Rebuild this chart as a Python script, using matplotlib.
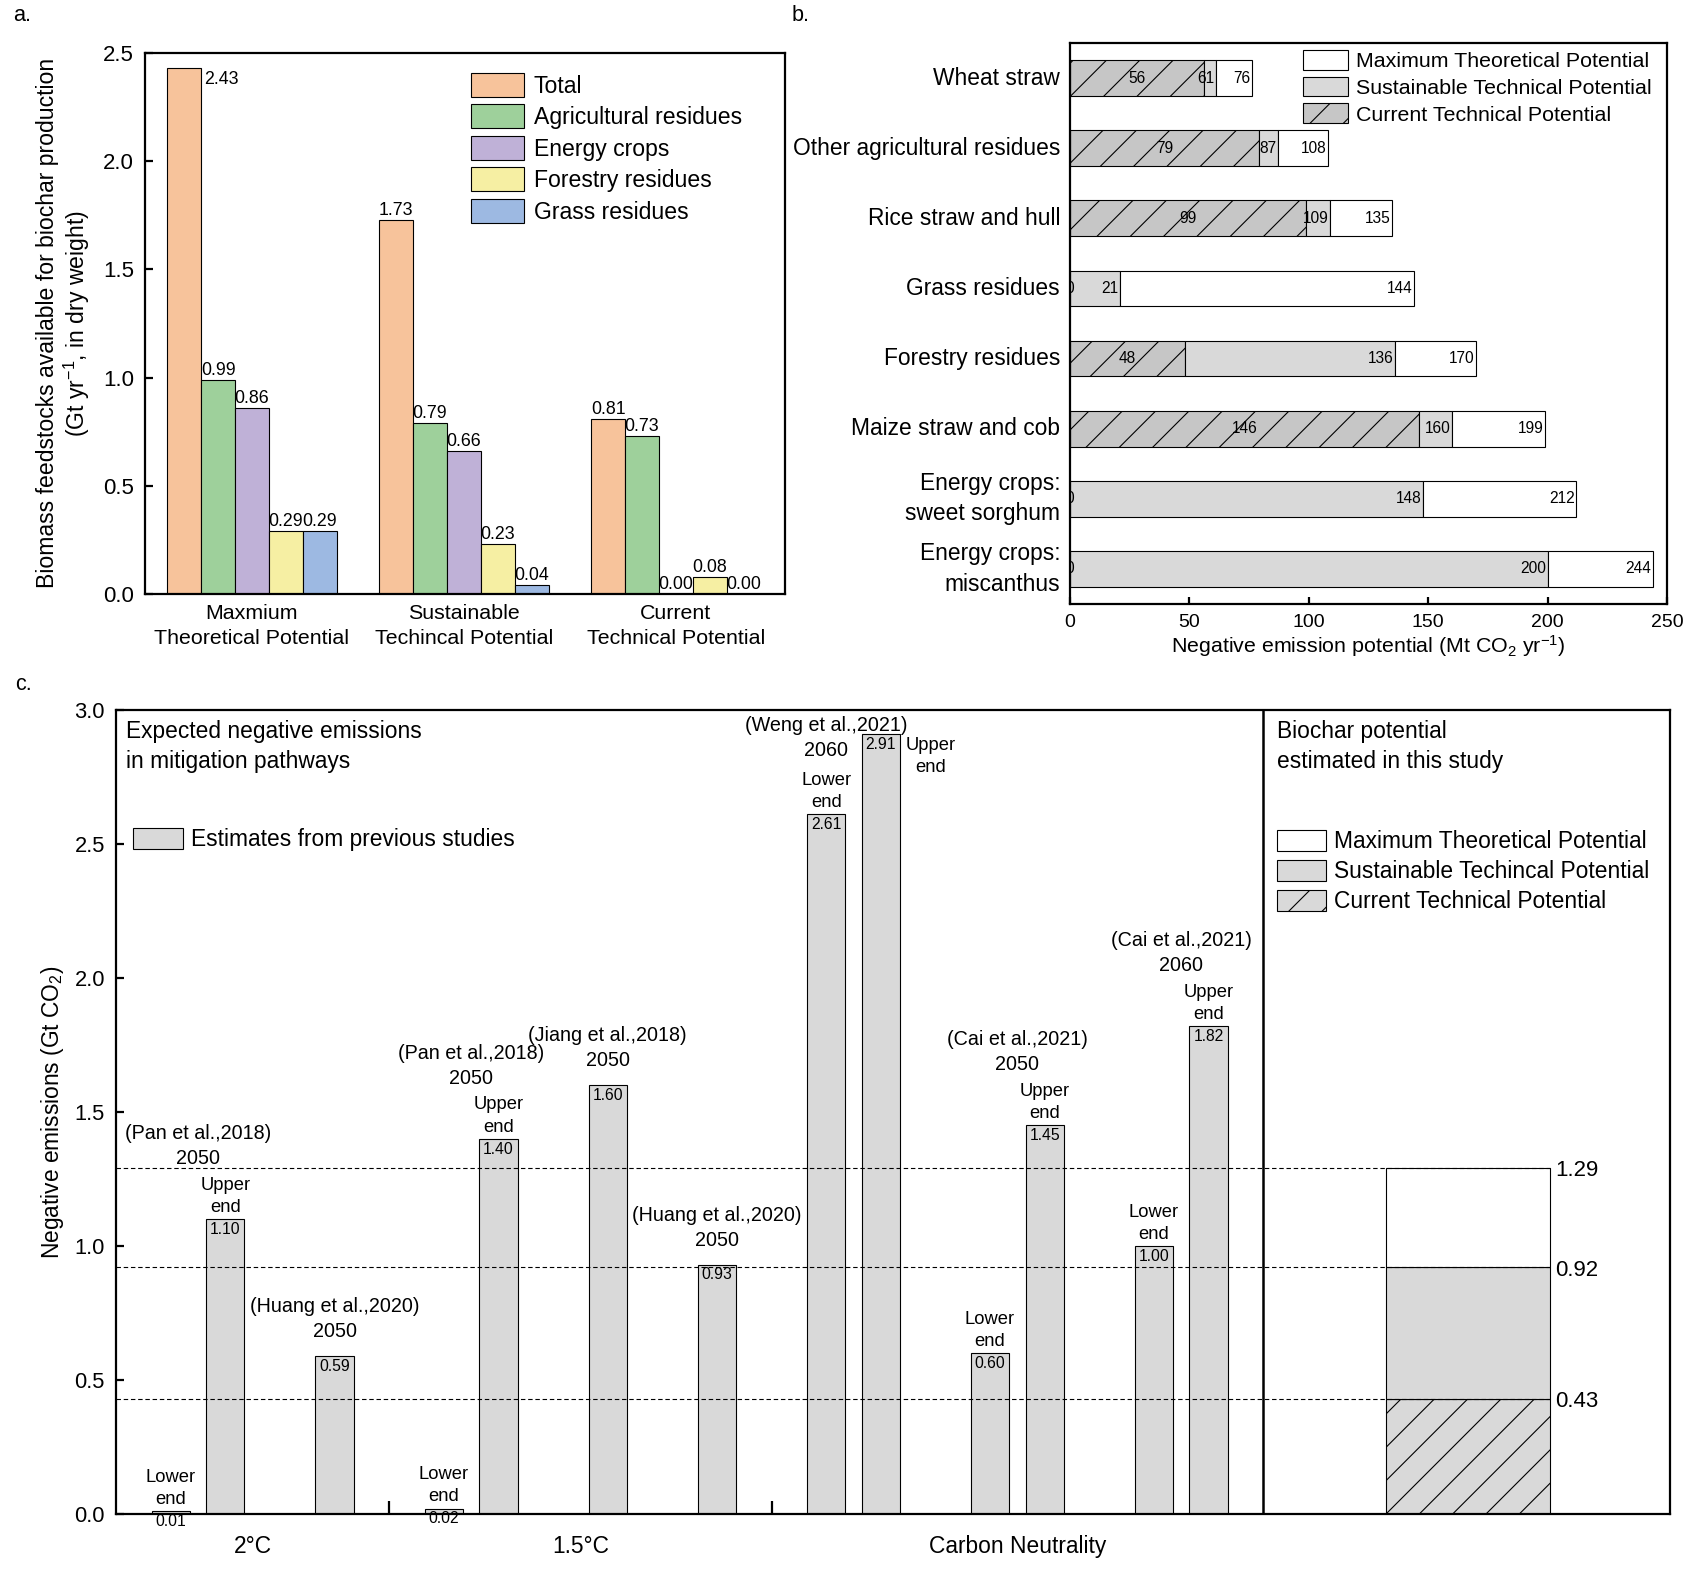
import numpy as np
import matplotlib
matplotlib.use("Agg")
import matplotlib.pyplot as plt
from matplotlib.patches import Patch

plt.rcParams["font.family"] = ["Liberation Sans", "DejaVu Sans"]
plt.rcParams["mathtext.fontset"] = "custom"
plt.rcParams["mathtext.rm"] = "Liberation Sans"
plt.rcParams["mathtext.it"] = "Liberation Sans:italic"
plt.rcParams["mathtext.bf"] = "Liberation Sans:bold"
plt.rcParams["hatch.linewidth"] = 0.4
plt.rcParams["axes.linewidth"] = 0.8

# ---- panel a: feedstock availability
scenarios_a = ["Maxmium\nTheoretical Potential", "Sustainable\nTechincal Potential",
               "Current\nTechnical Potential"]
feedstocks_a = ["Total", "Agricultural residues", "Energy crops", "Forestry residues", "Grass residues"]
max_theoretical_a = [2.43, 0.99, 0.86, 0.29, 0.29]
sustainable_a = [1.73, 0.79, 0.66, 0.23, 0.04]
current_a = [0.81, 0.73, 0.00, 0.08, 0.00]

# ---- panel b: negative emission potential per feedstock
residues_b = ["Wheat straw", "Other agricultural residues", "Rice straw and hull", "Grass residues",
              "Forestry residues", "Maize straw and cob", "Energy crops:\nsweet sorghum",
              "Energy crops:\nmiscanthus"]
current_b = [56, 79, 99, 0, 48, 146, 0, 0]
sustainable_b = [61, 87, 109, 21, 136, 160, 148, 200]
maximum_b = [76, 108, 135, 144, 170, 199, 212, 244]

# ---- panel c: previous estimates vs this study
groups_c = ["2°C", "1.5°C", "Carbon Neutrality"]
studies_c = ["(Pan et al.,2018)\n2050", "(Huang et al.,2020)\n2050", "(Pan et al.,2018)\n2050",
             "(Jiang et al.,2018)\n2050", "(Huang et al.,2020)\n2050", "(Weng et al.,2021)\n2060",
             "(Cai et al.,2021)\n2050", "(Cai et al.,2021)\n2060"]
study_group_c = [0, 0, 1, 1, 1, 2, 2, 2]
study_nbars_c = [2, 1, 2, 1, 1, 2, 2, 2]
estimates_c = [0.01, 1.10, 0.59, 0.02, 1.40, 1.60, 0.93, 2.61, 2.91, 0.60, 1.45, 1.00, 1.82]
ends_c = ["Lower\nend", "Upper\nend", "", "Lower\nend", "Upper\nend", "", "",
          "Lower\nend", "Upper\nend", "Lower\nend", "Upper\nend", "Lower\nend", "Upper\nend"]
biochar_levels_c = [0.43, 0.92, 1.29]
potential_names = ["Maximum Theoretical Potential", "Sustainable Techincal Potential",
                   "Current Technical Potential"]

feed_colors = ["#F7C39B", "#9ED09B", "#BFB1D7", "#F6EFA3", "#9DB9E2"]
GRAY = "#D9D9D9"
DARK_GRAY = "#C6C6C6"


def panel_a(ax):
    x = np.arange(len(scenarios_a))
    w = 0.16
    for i, name in enumerate(feedstocks_a):
        vals = [max_theoretical_a[i], sustainable_a[i], current_a[i]]
        xs = x + (i - 2) * w
        ax.bar(xs, vals, w, color=feed_colors[i], edgecolor="black", lw=0.4, label=name)
        for xx, v in zip(xs, vals):
            if v > 2.3:
                ax.annotate(f"{v:.2f}", (xx + w / 2, v), xytext=(1, -1), textcoords="offset points",
                            ha="left", va="top", fontsize=6.4)
            else:
                ax.annotate(f"{v:.2f}", (xx, v), xytext=(0, 0.3), textcoords="offset points",
                            ha="center", va="bottom", fontsize=6.4)
    ax.set_xlim(-0.505, 2.514)
    ax.set_ylim(0, 2.5)
    ax.set_yticks(np.arange(0, 2.51, 0.5))
    ax.set_yticklabels([f"{t:.1f}" for t in np.arange(0, 2.51, 0.5)])
    ax.set_xticks(x)
    ax.set_xticklabels(scenarios_a, fontsize=7.7, linespacing=1.4)
    ax.tick_params(axis="x", length=0, pad=3.5)
    ax.tick_params(axis="y", direction="in", length=3, width=0.8, labelsize=8, pad=4)
    ax.set_ylabel("Biomass feedstocks available for biochar production\n"
                  "(Gt yr$^{-1}$, in dry weight)", fontsize=8.3, labelpad=4, linespacing=1.1)
    ax.legend(loc="upper left", bbox_to_anchor=(0.51, 0.963), frameon=False, fontsize=8.3,
              handlelength=2.3, handleheight=1.2, labelspacing=0.3, handletextpad=0.4,
              borderpad=0, borderaxespad=0)


def panel_b(ax):
    y = np.arange(len(residues_b))
    h = 0.51
    cur = np.array(current_b)
    sus = np.array(sustainable_b)
    mx = np.array(maximum_b)
    ax.barh(y, cur, h, color=DARK_GRAY, edgecolor="black", lw=0.4, hatch="//")
    ax.barh(y, sus - cur, h, left=cur, color=GRAY, edgecolor="black", lw=0.4)
    ax.barh(y, mx - sus, h, left=sus, color="white", edgecolor="black", lw=0.4)
    for yy, c, s, m in zip(y, cur, sus, mx):
        ax.text(c / 2, yy, f"{c}", ha="center", va="center", fontsize=5.6, clip_on=True)
        ax.annotate(f"{s}", (s, yy), xytext=(-0.5, 0), textcoords="offset points",
                    ha="right", va="center", fontsize=5.6)
        ax.annotate(f"{m}", (m, yy), xytext=(-0.5, 0), textcoords="offset points",
                    ha="right", va="center", fontsize=5.6)
    ax.set_ylim(7.5, -0.5)
    ax.set_xlim(0, 250)
    ax.set_xticks(np.arange(0, 251, 50))
    ax.set_yticks(y)
    ax.set_yticklabels(residues_b, fontsize=8.2, linespacing=1.4, va="center")
    ax.tick_params(axis="y", length=0, pad=3.6)
    ax.tick_params(axis="x", direction="in", length=2.5, width=0.8, labelsize=7, pad=3.5)
    ax.set_xlabel("Negative emission potential (Mt CO$_2$ yr$^{-1}$)", fontsize=7.7, labelpad=1)
    handles = [Patch(facecolor="white", edgecolor="black", lw=0.4),
               Patch(facecolor=GRAY, edgecolor="black", lw=0.4),
               Patch(facecolor=DARK_GRAY, edgecolor="black", lw=0.4, hatch="//")]
    labels = ["Maximum Theoretical Potential", "Sustainable Technical Potential",
              "Current Technical Potential"]
    ax.legend(handles, labels, loc="upper left", bbox_to_anchor=(0.39, 0.988), frameon=False,
              fontsize=7.7, handlelength=2.1, handleheight=1.05, labelspacing=0.26,
              handletextpad=0.4, borderpad=0, borderaxespad=0)


def panel_c(ax):
    # lay the studies out on a slot grid, one empty slot after every study
    study_slots = []
    group_bounds = []
    pos = 0
    for k, n in enumerate(study_nbars_c):
        study_slots.append(list(range(pos, pos + n)))
        pos += n + 1
        if k == len(study_nbars_c) - 1 or study_group_c[k + 1] != study_group_c[k]:
            group_bounds.append(pos - 1)
    slots = [s for ss in study_slots for s in ss]
    w = 0.7
    ax.bar(slots, estimates_c, w, color=GRAY, edgecolor="black", lw=0.4, zorder=2)

    vals = dict(zip(slots, estimates_c))
    ends = dict(zip(slots, ends_c))
    for s in slots:
        v = vals[s]
        ax.annotate(f"{v:.2f}", (s, v), xytext=(0, -1), textcoords="offset points",
                    ha="center", va="top", fontsize=5.7, zorder=4)
    for k, ss in enumerate(study_slots):
        above = []
        side = False
        for s in ss:
            v = vals[s]
            if not ends[s]:
                continue
            if v + 0.2 > 3.0:
                side = True
                ax.text(s + w / 2 + 0.1, v - 0.01, ends[s], ha="left", va="top",
                        multialignment="center", fontsize=6.6, linespacing=1.4)
            else:
                above.append(s)
                ax.text(s, v + 0.012, ends[s], ha="center", va="bottom", fontsize=6.6,
                        linespacing=1.4)
        if above:
            top = max(vals[s] for s in above)
            cx = np.mean(above)
            y = top + (0.205 if side else 0.19)
        else:
            top = max(vals[s] for s in ss)
            cx = np.mean(ss)
            y = top + 0.055
        ax.text(cx, y, studies_c[k], ha="center", va="bottom", fontsize=7.1, linespacing=1.4)

    # biochar potential estimated in this study
    sep = group_bounds[-1]
    bx, bw = sep + 3.75, 3.0
    lo, mid, hi = biochar_levels_c
    ax.bar(bx, lo, bw, color=GRAY, edgecolor="black", lw=0.4, hatch="//", zorder=2)
    ax.bar(bx, mid - lo, bw, bottom=lo, color=GRAY, edgecolor="black", lw=0.4, zorder=2)
    ax.bar(bx, hi - mid, bw, bottom=mid, color="white", edgecolor="black", lw=0.4, zorder=2)
    ax.hlines(biochar_levels_c, -1, bx + bw / 2, colors="black", lw=0.4,
              linestyles=(0, (4, 2.5)), zorder=3)
    for v in biochar_levels_c:
        ax.text(bx + bw / 2 + 0.1, v - 0.01, f"{v:.2f}", ha="left", va="center", fontsize=8)
    ax.axvline(sep, color="black", lw=0.9, zorder=5)

    ax.set_xlim(-1, 27.45)
    ax.set_ylim(0, 3.0)
    ax.set_yticks(np.arange(0, 3.01, 0.5))
    ax.set_yticklabels([f"{t:.1f}" for t in np.arange(0, 3.01, 0.5)])
    starts = [-1] + group_bounds[:-1]
    ax.set_xticks([(a + b) / 2 for a, b in zip(starts, group_bounds)])
    ax.set_xticklabels(groups_c, fontsize=8.2)
    ax.set_xticks(group_bounds[:-1], minor=True)
    ax.tick_params(axis="x", which="major", length=0, pad=7.5)
    ax.tick_params(axis="x", which="minor", direction="in", length=4.8, width=0.8)
    ax.tick_params(axis="y", direction="in", length=3, width=0.8, labelsize=7.9, pad=4)
    ax.set_ylabel("Negative emissions (Gt CO$_2$)", fontsize=8.2, labelpad=3)

    ax.text(0.0064, 0.988, "Expected negative emissions\nin mitigation pathways",
            transform=ax.transAxes, ha="left", va="top", fontsize=8.2, linespacing=1.4)
    ax.text(0.7468, 0.988, "Biochar potential\nestimated in this study",
            transform=ax.transAxes, ha="left", va="top", fontsize=8.2, linespacing=1.4)
    leg1 = ax.legend([Patch(facecolor=GRAY, edgecolor="black", lw=0.4)],
                     ["Estimates from previous studies"], loc="upper left",
                     bbox_to_anchor=(0.011, 0.853), frameon=False, fontsize=8.2,
                     handlelength=2.17, handleheight=1.04, handletextpad=0.35,
                     borderpad=0, borderaxespad=0)
    ax.add_artist(leg1)
    handles = [Patch(facecolor="white", edgecolor="black", lw=0.4),
               Patch(facecolor=GRAY, edgecolor="black", lw=0.4),
               Patch(facecolor=GRAY, edgecolor="black", lw=0.4, hatch="//")]
    ax.legend(handles, potential_names, loc="upper left", bbox_to_anchor=(0.7468, 0.851),
              frameon=False, fontsize=8.2, handlelength=2.17, handleheight=1.08,
              labelspacing=0.28, handletextpad=0.37, borderpad=0, borderaxespad=0)


def main():
    fig = plt.figure(figsize=(8.495, 7.85), dpi=200)
    ax_a = fig.add_axes([0.0853, 0.6217, 0.3767, 0.3446])
    ax_b = fig.add_axes([0.6298, 0.6153, 0.3514, 0.3573])
    ax_c = fig.add_axes([0.0683, 0.0357, 0.9147, 0.5121])
    panel_a(ax_a)
    panel_b(ax_b)
    panel_c(ax_c)
    fig.text(0.008, 0.997, "a.", ha="left", va="top", fontsize=7.8)
    fig.text(0.466, 0.997, "b.", ha="left", va="top", fontsize=7.8)
    fig.text(0.009, 0.571, "c.", ha="left", va="top", fontsize=7.8)
    fig.savefig("out.png", dpi=200)


if __name__ == "__main__":
    main()
